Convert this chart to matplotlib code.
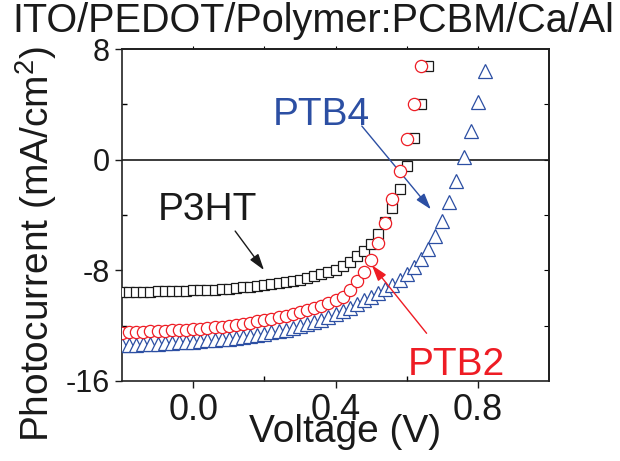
import numpy as np
import matplotlib
matplotlib.use("Agg")
import matplotlib.pyplot as plt
from matplotlib.ticker import FixedLocator, NullFormatter

plt.rcParams['font.family'] = ['Liberation Sans', 'DejaVu Sans']
plt.rcParams['mathtext.fontset'] = 'custom'
plt.rcParams['mathtext.rm'] = 'Liberation Sans'

# Current density vs voltage, 20 mV steps
v_p3ht = [-0.20, -0.18, -0.16, -0.14, -0.12, -0.10, -0.08, -0.06, -0.04, -0.02,
          0.00, 0.02, 0.04, 0.06, 0.08, 0.10, 0.12, 0.14, 0.16, 0.18,
          0.20, 0.22, 0.24, 0.26, 0.28, 0.30, 0.32, 0.34, 0.36, 0.38,
          0.40, 0.42, 0.44, 0.46, 0.48, 0.50, 0.52, 0.54, 0.56, 0.58,
          0.60, 0.62, 0.64, 0.66]
j_p3ht = [-9.58, -9.57, -9.56, -9.55, -9.54, -9.52, -9.51, -9.50, -9.48, -9.47,
          -9.45, -9.43, -9.41, -9.39, -9.36, -9.33, -9.28, -9.23, -9.18, -9.13,
          -9.08, -9.02, -8.94, -8.86, -8.77, -8.67, -8.55, -8.42, -8.28, -8.12,
          -7.94, -7.72, -7.40, -7.00, -6.60, -6.09, -5.40, -4.50, -3.50, -2.10,
          -0.43, 1.60, 4.02, 6.74]

v_ptb2 = [-0.20, -0.18, -0.16, -0.14, -0.12, -0.10, -0.08, -0.06, -0.04, -0.02,
          0.00, 0.02, 0.04, 0.06, 0.08, 0.10, 0.12, 0.14, 0.16, 0.18,
          0.20, 0.22, 0.24, 0.26, 0.28, 0.30, 0.32, 0.34, 0.36, 0.38,
          0.40, 0.42, 0.44, 0.46, 0.48, 0.50, 0.52, 0.54, 0.56, 0.58,
          0.60, 0.62, 0.64]
j_ptb2 = [-12.50, -12.48, -12.46, -12.44, -12.42, -12.40, -12.37, -12.34, -12.31, -12.28,
          -12.25, -12.21, -12.17, -12.12, -12.07, -12.01, -11.94, -11.86, -11.78, -11.69,
          -11.60, -11.50, -11.39, -11.27, -11.15, -11.02, -10.88, -10.72, -10.55, -10.36,
          -10.15, -9.90, -9.40, -8.80, -8.10, -7.24, -6.00, -4.60, -2.84, -0.79,
          1.49, 4.02, 6.74]

v_ptb4 = [-0.20, -0.18, -0.16, -0.14, -0.12, -0.10, -0.08, -0.06, -0.04, -0.02,
          0.00, 0.02, 0.04, 0.06, 0.08, 0.10, 0.12, 0.14, 0.16, 0.18,
          0.20, 0.22, 0.24, 0.26, 0.28, 0.30, 0.32, 0.34, 0.36, 0.38,
          0.40, 0.42, 0.44, 0.46, 0.48, 0.50, 0.52, 0.54, 0.56, 0.58,
          0.60, 0.62, 0.64, 0.66, 0.68, 0.70, 0.72, 0.74, 0.76, 0.78,
          0.80, 0.82]
j_ptb4 = [-13.42, -13.40, -13.37, -13.35, -13.32, -13.30, -13.27, -13.24, -13.21, -13.18,
          -13.15, -13.11, -13.07, -13.03, -12.98, -12.93, -12.87, -12.81, -12.74, -12.66,
          -12.58, -12.49, -12.39, -12.28, -12.16, -12.03, -11.89, -11.74, -11.57, -11.39,
          -11.19, -10.97, -10.72, -10.45, -10.18, -9.94, -9.65, -9.34, -9.03, -8.69,
          -8.30, -7.73, -7.17, -6.45, -5.49, -4.40, -3.08, -1.56, 0.17, 2.09,
          4.14, 6.40]

x_major = [0.0, 0.4, 0.8]
x_minor = [0.2, 0.6]
x_top = [0.0, 0.2, 0.4, 0.6, 0.8]
y_major = [8, 0, -8, -16]
y_minor = [4, -4, -12]
y_right = [4, 0, -4, -8, -12]

BLACK = '#1a1a1a'
RED = '#ee1c24'
BLUE = '#2c4fa3'

fig = plt.figure(figsize=(6.2, 4.61), dpi=100)
ax = fig.add_axes([122 / 620, 1 - 381 / 461, 427 / 620, 332 / 461])

ax.axhline(0, color=BLACK, lw=1.2, zorder=1)

mk = dict(linestyle='none', markerfacecolor='white', markeredgewidth=0.9)
ax.plot(v_ptb4, j_ptb4, marker='^', markersize=10, markeredgecolor=BLUE, zorder=3, **mk)
ax.plot(v_p3ht, j_p3ht, marker='s', markersize=7.6, markeredgecolor=BLACK, zorder=4, **mk)
ax.plot(v_ptb2, j_ptb2, marker='o', markersize=8.8, markeredgecolor=RED, zorder=5, **mk)

ax.set_xlim(-0.2, 1.0)
ax.set_ylim(-16, 8)

ax.xaxis.set_major_locator(FixedLocator(x_major))
ax.xaxis.set_minor_locator(FixedLocator(x_minor))
ax.yaxis.set_major_locator(FixedLocator(y_major))
ax.yaxis.set_minor_locator(FixedLocator(y_minor))
ax.set_xticklabels(['0.0', '0.4', '0.8'])
ax.set_yticklabels(['8', '0', '-8', '-16'])

ax.tick_params(axis='x', which='major', direction='out', length=5, width=1,
               labelsize=26, pad=4, colors=BLACK)
ax.tick_params(axis='x', which='minor', direction='in', length=3.5, width=1)
ax.tick_params(axis='y', which='major', direction='out', length=5, width=1,
               labelsize=22, pad=4, colors=BLACK)
ax.tick_params(axis='y', which='minor', direction='in', length=3.5, width=1)

for s in ax.spines.values():
    s.set_linewidth(1.2)
    s.set_color('#222222')

top = ax.secondary_xaxis('top')
top.xaxis.set_major_locator(FixedLocator(x_top))
top.xaxis.set_major_formatter(NullFormatter())
top.tick_params(direction='out', length=2.5, width=0.8)
top.spines['top'].set_linewidth(1.2)

right = ax.secondary_yaxis('right')
right.yaxis.set_major_locator(FixedLocator(y_right))
right.yaxis.set_major_formatter(NullFormatter())
right.tick_params(direction='in', length=3.5, width=0.8)
right.spines['right'].set_linewidth(1.2)

fig.text(0.506, 1 - 32 / 461, 'ITO/PEDOT/Polymer:PCBM/Ca/Al', ha='center',
         va='baseline', fontsize=28.5, color=BLACK)
fig.text(345 / 620, 1 - 442 / 461, 'Voltage (V)', ha='center', va='baseline',
         fontsize=28, color=BLACK)
fig.text(36 / 620, 1 - 244 / 461, r'Photocurrent (mA/cm$^\mathregular{2}$)', rotation=90,
         ha='center', va='center', fontsize=28, color=BLACK)

ax.text(0.039, -4.36, 'P3HT', ha='center', va='baseline', fontsize=28, color=BLACK)
ax.text(0.359, 2.51, 'PTB4', ha='center', va='baseline', fontsize=28, color=BLUE)
ax.text(0.741, -15.57, 'PTB2', ha='center', va='baseline', fontsize=28, color=RED)

arrow = dict(arrowstyle='-|>,head_length=0.7,head_width=0.22', lw=1.0,
             shrinkA=0, shrinkB=0, mutation_scale=14)
ax.annotate('', xy=(0.199, -7.98), xytext=(0.118, -5.16),
            arrowprops=dict(color=BLACK, **arrow))
ax.annotate('', xy=(0.668, -3.59), xytext=(0.474, 2.43),
            arrowprops=dict(color=BLUE, **arrow))
ax.annotate('', xy=(0.502, -7.62), xytext=(0.656, -12.55),
            arrowprops=dict(color=RED, **arrow))

fig.savefig('out.png', dpi=100)
